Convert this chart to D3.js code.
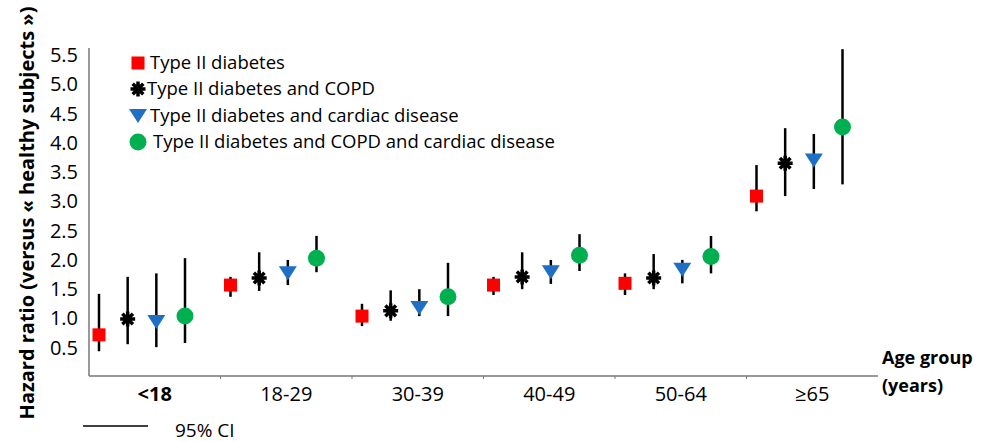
<!DOCTYPE html>
<html>
<head>
<meta charset="utf-8">
<style>
  body { margin: 0; background: #fff; }
  text { font-family: "Open Sans", sans-serif; fill: #000; }
</style>
</head>
<body>
<div id="chart"></div>
<script src="https://cdn.jsdelivr.net/npm/d3@7/dist/d3.min.js"></script>
<script>
// age groups and series
var groups = ["<18", "18-29", "30-39", "40-49", "50-64", "\u226565"];
var series = ["Type II diabetes", "Type II diabetes and COPD",
              "Type II diabetes and cardiac disease",
              "Type II diabetes and COPD and cardiac disease"];
var yTicks = [0.5, 1.0, 1.5, 2.0, 2.5, 3.0, 3.5, 4.0, 4.5, 5.0, 5.5];

// hazard ratios, one array per series (index = age group)
var hrDiab        = [0.72, 1.57, 1.04, 1.57, 1.60, 3.09];
var hrDiabCopd    = [0.99, 1.69, 1.13, 1.71, 1.69, 3.65];
var hrDiabCard    = [0.94, 1.77, 1.18, 1.79, 1.83, 3.70];
var hrDiabCopdCard= [1.04, 2.03, 1.37, 2.08, 2.06, 4.27];

// 95% CI lower / upper
var loDiab        = [0.44, 1.37, 0.87, 1.40, 1.40, 2.83];
var hiDiab        = [1.42, 1.71, 1.25, 1.71, 1.77, 3.62];
var loDiabCopd    = [0.56, 1.47, 0.96, 1.50, 1.50, 3.09];
var hiDiabCopd    = [1.71, 2.13, 1.48, 2.13, 2.10, 4.25];
var loDiabCard    = [0.51, 1.57, 1.04, 1.59, 1.60, 3.21];
var hiDiabCard    = [1.77, 2.00, 1.50, 2.00, 2.00, 4.15];
var loDiabCopdCard= [0.58, 1.79, 1.04, 1.81, 1.77, 3.29];
var hiDiabCopdCard= [2.03, 2.41, 1.95, 2.44, 2.41, 5.60];

var hr = [hrDiab, hrDiabCopd, hrDiabCard, hrDiabCopdCard];
var lo = [loDiab, loDiabCopd, loDiabCard, loDiabCopdCard];
var hi = [hiDiab, hiDiabCopd, hiDiabCard, hiDiabCopdCard];

var W = 986, H = 442;
var svg = d3.select("#chart").append("svg")
    .attr("width", W).attr("height", H);

var x = d3.scaleBand().domain(groups).range([89, 878]);
var xin = d3.scalePoint().domain(d3.range(series.length)).range([10, 96]);
var y = d3.scaleLinear().domain([0, 5.5]).range([377, 55]);

var colors = ["#ff0000", "#000000", "#1f6fc5", "#00b050"];

// flatten for drawing
var pts = [];
series.forEach(function(s, si) {
  groups.forEach(function(g, gi) {
    pts.push({s: si, g: g, v: hr[si][gi], lo: lo[si][gi], hi: hi[si][gi]});
  });
});

// axes
svg.append("line").attr("x1", 89).attr("x2", 89).attr("y1", 48).attr("y2", 376)
  .attr("stroke", "#777").attr("stroke-width", 1.5);
svg.append("line").attr("x1", 89).attr("x2", 878).attr("y1", 376).attr("y2", 376)
  .attr("stroke", "#777").attr("stroke-width", 1.5);
svg.selectAll(".xt").data(groups.slice(1)).enter().append("line")
  .attr("x1", function(d) { return x(d); }).attr("x2", function(d) { return x(d); })
  .attr("y1", 376).attr("y2", 379).attr("stroke", "#777");

svg.selectAll(".yl").data(yTicks).enter().append("text")
  .attr("x", 78).attr("y", function(d) { return y(d); })
  .attr("dy", "0.35em").attr("text-anchor", "end")
  .style("font-size", "20px")
  .text(function(d) { return d.toFixed(1); });

svg.selectAll(".xl").data(groups).enter().append("text")
  .attr("x", function(d) { return x(d) + x.bandwidth() / 2; })
  .attr("y", 394).attr("dy", "0.35em").attr("text-anchor", "middle")
  .style("font-size", "20px")
  .style("font-weight", function(d, i) { return i === 0 ? "bold" : "normal"; })
  .text(function(d) { return d; });

svg.append("text").attr("x", 882).attr("y", 358).attr("dy", "0.35em")
  .style("font-size", "18px").style("font-weight", "bold").text("Age group");
svg.append("text").attr("x", 882).attr("y", 386).attr("dy", "0.35em")
  .style("font-size", "18px").style("font-weight", "bold").text("(years)");

svg.append("text")
  .attr("transform", "translate(27,213) rotate(-90)")
  .attr("text-anchor", "middle").attr("dy", "0.35em")
  .style("font-size", "20px").style("font-weight", "bold")
  .text("Hazard ratio (versus \u00ab healthy subjects \u00bb)");

function px(d) { return x(d.g) + xin(d.s); }

// error bars
svg.selectAll(".ci").data(pts).enter().append("line")
  .attr("x1", px).attr("x2", px)
  .attr("y1", function(d) { return y(d.lo); })
  .attr("y2", function(d) { return y(d.hi); })
  .attr("stroke", "#000").attr("stroke-width", 2.5);

// markers
function drawMarker(sel, si) {
  if (si === 0) {
    sel.append("rect").attr("x", -6.5).attr("y", -6.5).attr("width", 13).attr("height", 13)
      .attr("fill", colors[0]);
  } else if (si === 1) {
    sel.append("path")
      .attr("d", "M-7.5,0L7.5,0M0,-7.5L0,7.5M-5.3,-5.3L5.3,5.3M-5.3,5.3L5.3,-5.3")
      .attr("stroke", "#000").attr("stroke-width", 3.5);
  } else if (si === 2) {
    sel.append("path").attr("d", "M-9,-7L9,-7L0,7Z").attr("fill", colors[2]);
  } else {
    sel.append("circle").attr("r", 8.5).attr("fill", colors[3]);
  }
}

svg.selectAll(".pt").data(pts).enter().append("g")
  .attr("transform", function(d) { return "translate(" + px(d) + "," + y(d.v) + ")"; })
  .each(function(d) { drawMarker(d3.select(this), d.s); });

// legend
var legY = [63, 89, 116, 142];
var legTx = [150, 147, 150, 153];
series.forEach(function(s, i) {
  var g = svg.append("g").attr("transform", "translate(138," + legY[i] + ")");
  drawMarker(g, i);
  svg.append("text").attr("x", legTx[i]).attr("y", legY[i]).attr("dy", "0.35em")
    .style("font-size", "18.5px").text(s);
});

// CI legend
svg.append("line").attr("x1", 83).attr("x2", 148).attr("y1", 426).attr("y2", 426)
  .attr("stroke", "#000").attr("stroke-width", 1.5);
svg.append("text").attr("x", 175).attr("y", 430).attr("dy", "0.35em")
  .style("font-size", "19px").text("95% CI");
</script>
</body>
</html>
